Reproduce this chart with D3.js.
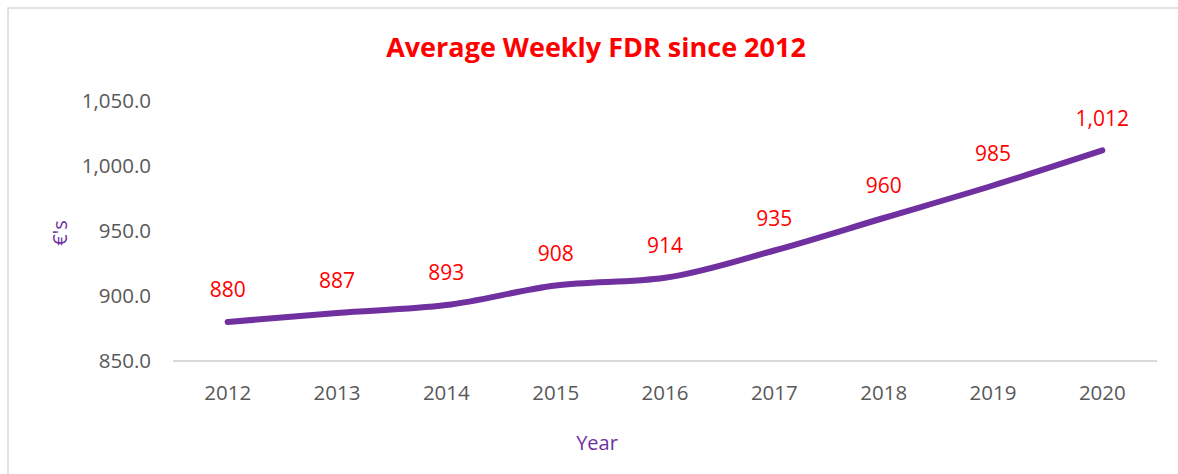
<!DOCTYPE html>
<html>
<head>
<meta charset="utf-8">
<script src="https://cdn.jsdelivr.net/npm/d3@7"></script>
<style>
  body { margin: 0; background: #fff; }
  text { font-family: "Open Sans", "Noto Sans", sans-serif; }
</style>
</head>
<body>
<div id="chart"></div>
<script>
const years = ['2012', '2013', '2014', '2015', '2016', '2017', '2018', '2019', '2020'];
const fdr = [880, 887, 893, 908, 914, 935, 960, 985, 1012];
const yTicks = [850, 900, 950, 1000, 1050];

const width = 1178;
const height = 474;
const margin = { top: 101, right: 21, bottom: 113, left: 173 };

const svg = d3.select('#chart').append('svg')
  .attr('width', width)
  .attr('height', height);

// chart border
svg.append('rect')
  .attr('x', 8).attr('y', 8)
  .attr('width', width + 10).attr('height', height + 10)
  .attr('fill', 'none')
  .attr('stroke', '#d9d9d9')
  .attr('stroke-width', 1.5);

const x = d3.scaleBand()
  .domain(years)
  .range([margin.left, width - margin.right]);

const y = d3.scaleLinear()
  .domain([850, 1050])
  .range([height - margin.bottom, margin.top]);

const cx = d => x(d) + x.bandwidth() / 2;

// x axis line
svg.append('line')
  .attr('x1', x.range()[0]).attr('x2', x.range()[1])
  .attr('y1', y(850)).attr('y2', y(850))
  .attr('stroke', '#d9d9d9')
  .attr('stroke-width', 2);

// y tick labels
svg.append('g').selectAll('text')
  .data(yTicks).enter().append('text')
  .attr('x', 151)
  .attr('y', d => y(d))
  .attr('dy', '0.35em')
  .attr('text-anchor', 'end')
  .attr('font-size', 20.5)
  .attr('fill', '#595959')
  .text(d => d3.format(',.1f')(d));

// x tick labels
svg.append('g').selectAll('text')
  .data(years).enter().append('text')
  .attr('x', d => cx(d))
  .attr('y', 393)
  .attr('dy', '0.35em')
  .attr('text-anchor', 'middle')
  .attr('font-size', 20.5)
  .attr('fill', '#595959')
  .text(d => d);

// line
const line = d3.line()
  .x((d, i) => cx(years[i]))
  .y(d => y(d))
  .curve(d3.curveMonotoneX);

svg.append('path')
  .datum(fdr)
  .attr('d', line)
  .attr('fill', 'none')
  .attr('stroke', '#7030a0')
  .attr('stroke-width', 6)
  .attr('stroke-linecap', 'round')
  .attr('stroke-linejoin', 'round');

// data labels
svg.append('g').selectAll('text')
  .data(fdr).enter().append('text')
  .attr('x', (d, i) => cx(years[i]))
  .attr('y', d => y(d) - 32)
  .attr('dy', '0.35em')
  .attr('text-anchor', 'middle')
  .attr('font-size', 21)
  .attr('fill', '#ff0000')
  .text(d => d3.format(',')(d));

// title
svg.append('text')
  .attr('x', 596)
  .attr('y', 48)
  .attr('dy', '0.35em')
  .attr('text-anchor', 'middle')
  .attr('font-size', 27)
  .attr('font-weight', 'bold')
  .attr('fill', '#ff0000')
  .text('Average Weekly FDR since 2012');

// axis titles
svg.append('text')
  .attr('transform', 'translate(60,233) rotate(-90)')
  .attr('dy', '0.35em')
  .attr('text-anchor', 'middle')
  .attr('font-size', 20)
  .attr('fill', '#7030a0')
  .text('€\'s');

svg.append('text')
  .attr('x', 597)
  .attr('y', 443)
  .attr('dy', '0.35em')
  .attr('text-anchor', 'middle')
  .attr('font-size', 20)
  .attr('fill', '#7030a0')
  .text('Year');
</script>
</body>
</html>
